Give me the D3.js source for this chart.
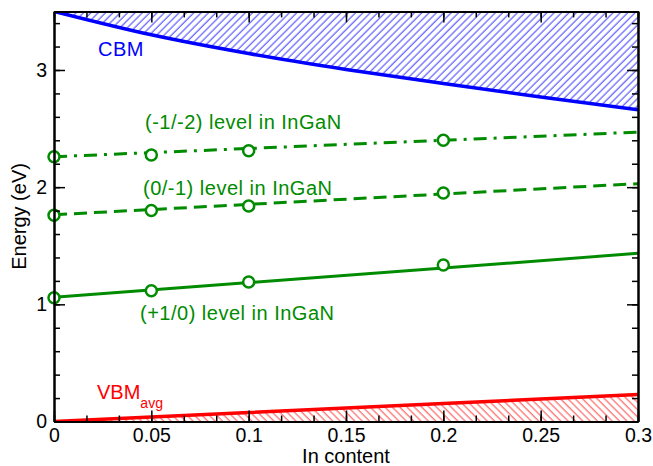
<!DOCTYPE html>
<html>
<head>
<meta charset="utf-8">
<script src="https://cdn.jsdelivr.net/npm/d3@7"></script>
<style>
  body { margin: 0; background: #fff; }
  svg text { font-family: "Liberation Sans", Arial, sans-serif; }
</style>
</head>
<body>
<svg class="graph" width="653" height="466"></svg>
<script>
// band edges
var bandX = [0, 0.05, 0.1, 0.15, 0.2, 0.25, 0.3];
var cbm = [3.50, 3.30, 3.14, 3.005, 2.885, 2.77, 2.66];
var vbm = [0, 0.038, 0.077, 0.115, 0.153, 0.192, 0.23];

// computed levels (markers)
var levelX = [0, 0.05, 0.1, 0.2];
var lvlPlus = [1.057, 1.116, 1.19, 1.335];
var lvlZero = [1.76, 1.80, 1.84, 1.95];
var lvlMinus = [2.26, 2.275, 2.31, 2.40];

// fitted lines
var fitX = [0, 0.3];
var fitPlus = [1.06, 1.435];
var fitZero = [1.765, 2.03];
var fitMinus = [2.26, 2.47];

var xTicks = [0, 0.05, 0.1, 0.15, 0.2, 0.25, 0.3];
var yTicks = [0, 1, 2, 3];

var svg = d3.select('svg.graph'),
  margin = {top: 11.4, right: 15, bottom: 44.5, left: 54},
  width = +svg.attr("width") - margin.left - margin.right,
  height = +svg.attr("height") - margin.top - margin.bottom,
  g = svg.append("g").attr("transform", "translate(" + margin.left + "," + margin.top + ")");

var x = d3.scaleLinear().domain([0, 0.3]).range([0, width]);
var y = d3.scaleLinear().domain([0, 3.5]).range([height, 0]);

var green = "#008b00";

var defs = svg.append("defs");
defs.append("clipPath").attr("id", "clip")
  .append("rect").attr("width", width).attr("height", height);

var hatch = function(id, color, angle) {
  var p = defs.append("pattern")
    .attr("id", id)
    .attr("patternUnits", "userSpaceOnUse")
    .attr("width", 5.2).attr("height", 10)
    .attr("patternTransform", "rotate(" + angle + ")");
  p.append("line")
    .attr("x1", 1).attr("x2", 1).attr("y1", -1).attr("y2", 11)
    .attr("stroke", color).attr("stroke-width", 1);
};
hatch("hatchBlue", "#3c3cff", 45);
hatch("hatchRed", "#ff4848", -45);

var plot = g.append("g").attr("clip-path", "url(#clip)");

var pts = function(xs, ys) { return xs.map(function(d, i) { return [d, ys[i]]; }); };

plot.append("path")
  .datum(pts(bandX, cbm))
  .attr("fill", "url(#hatchBlue)")
  .attr("d", d3.area().curve(d3.curveMonotoneX)
    .x(function(d) { return x(d[0]); })
    .y0(function(d) { return y(d[1]); })
    .y1(0));

plot.append("path")
  .datum(pts(bandX, vbm))
  .attr("fill", "url(#hatchRed)")
  .attr("d", d3.area()
    .x(function(d) { return x(d[0]); })
    .y0(y(0))
    .y1(function(d) { return y(d[1]); }));

var line = d3.line()
  .x(function(d) { return x(d[0]); })
  .y(function(d) { return y(d[1]); });

plot.append("path")
  .datum(pts(bandX, cbm))
  .attr("fill", "none").attr("stroke", "#0000ff").attr("stroke-width", 3.5)
  .attr("d", line.curve(d3.curveMonotoneX));
line.curve(d3.curveLinear);

plot.append("path")
  .datum(pts(bandX, vbm))
  .attr("fill", "none").attr("stroke", "#ff0000").attr("stroke-width", 3.5)
  .attr("d", line);

var fits = [
  {ys: fitPlus, dash: null},
  {ys: fitZero, dash: "13,7"},
  {ys: fitMinus, dash: "13,7,3,7"}
];
fits.forEach(function(f) {
  plot.append("path")
    .datum(pts(fitX, f.ys))
    .attr("fill", "none").attr("stroke", green).attr("stroke-width", 3)
    .attr("stroke-dasharray", f.dash)
    .attr("d", line);
});

[lvlPlus, lvlZero, lvlMinus].forEach(function(ys) {
  g.append("g")
    .selectAll("circle")
    .data(pts(levelX, ys))
    .enter().append("circle")
      .attr("cx", function(d) { return x(d[0]); })
      .attr("cy", function(d) { return y(d[1]); })
      .attr("r", 5.5)
      .attr("fill", "#fff")
      .attr("stroke", green)
      .attr("stroke-width", 2.5);
});

// axes, ticks pointing inward
var xMinor = d3.range(0, 19).map(function(i) { return i * 0.3 / 18; });
var yMinor = d3.range(0, 18).map(function(i) { return i * 0.2; });

var axisStyle = function(sel) {
  sel.selectAll("path").attr("stroke-width", 2);
  sel.selectAll("line").attr("stroke-width", 1.5);
  sel.selectAll("text").attr("font-size", 19.5).attr("fill", "#000");
};

g.append("g").attr("transform", "translate(0," + height + ")")
  .call(d3.axisBottom(x).tickValues(xMinor).tickFormat("").tickSize(-6).tickSizeOuter(0)).call(axisStyle);
g.append("g").attr("transform", "translate(0," + height + ")")
  .call(d3.axisBottom(x).tickValues(xTicks).tickFormat(d3.format("~g")).tickSize(-11).tickPadding(7).tickSizeOuter(0)).call(axisStyle);
g.append("g")
  .call(d3.axisTop(x).tickValues(xMinor).tickFormat("").tickSize(-6).tickSizeOuter(0)).call(axisStyle);
g.append("g")
  .call(d3.axisTop(x).tickValues(xTicks).tickFormat("").tickSize(-11).tickSizeOuter(0)).call(axisStyle);

g.append("g")
  .call(d3.axisLeft(y).tickValues(yMinor).tickFormat("").tickSize(-6).tickSizeOuter(0)).call(axisStyle);
g.append("g")
  .call(d3.axisLeft(y).tickValues(yTicks).tickFormat(d3.format("d")).tickSize(-11).tickPadding(7).tickSizeOuter(0)).call(axisStyle);
g.append("g").attr("transform", "translate(" + width + ",0)")
  .call(d3.axisRight(y).tickValues(yMinor).tickFormat("").tickSize(-6).tickSizeOuter(0)).call(axisStyle);
g.append("g").attr("transform", "translate(" + width + ",0)")
  .call(d3.axisRight(y).tickValues(yTicks).tickFormat("").tickSize(-11).tickSizeOuter(0)).call(axisStyle);

// axis titles
svg.append("text")
  .attr("x", margin.left + width / 2).attr("y", 463)
  .attr("text-anchor", "middle").attr("font-size", 20)
  .text("In content");
svg.append("text")
  .attr("transform", "translate(26," + (margin.top + height / 2) + ") rotate(-90)")
  .attr("text-anchor", "middle").attr("font-size", 20)
  .text("Energy (eV)");

// labels
var labels = [
  {t: "CBM", x: 98, y: 56, c: "#0000ff"},
  {t: "(-1/-2) level in InGaN", x: 145, y: 129, c: green},
  {t: "(0/-1) level in InGaN", x: 143, y: 195, c: green},
  {t: "(+1/0) level in InGaN", x: 140, y: 320, c: green}
];
labels.forEach(function(l) {
  svg.append("text").attr("x", l.x).attr("y", l.y)
    .attr("fill", l.c).attr("font-size", 20)
    .attr("letter-spacing", 0.5).text(l.t);
});
var vt = svg.append("text").attr("x", 97).attr("y", 399)
  .attr("fill", "#ff0000").attr("font-size", 20);
vt.append("tspan").text("VBM");
vt.append("tspan").attr("font-size", 14).attr("dy", 9).text("avg");
</script>
</body>
</html>
